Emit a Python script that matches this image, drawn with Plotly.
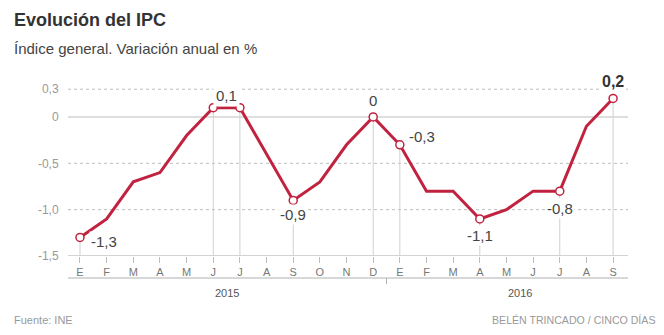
import plotly.graph_objects as go

# Monthly CPI annual variation (%), Jan 2015 – Sep 2016
months = ["E", "F", "M", "A", "M", "J", "J", "A", "S", "O", "N", "D",
          "E", "F", "M", "A", "M", "J", "J", "A", "S"]
ipc = [-1.3, -1.1, -0.7, -0.6, -0.2, 0.1, 0.1, -0.4, -0.9, -0.7, -0.3, 0.0,
       -0.3, -0.8, -0.8, -1.1, -1.0, -0.8, -0.8, -0.1, 0.2]
years = ["2015", "2016"]
year_centers = [5.5, 16.5]
highlight = [0, 5, 6, 8, 11, 12, 15, 18, 20]

y_ticks = [0.3, 0.0, -0.5, -1.0, -1.5]

RED = "#c1223f"
SANS = "Liberation Sans, Arial, sans-serif"


def fmt(v):
    s = f"{v:.1f}".replace(".", ",")
    if s in ("0,0", "-0,0"):
        return "0"
    return s


def fmt_tick(v):
    return "0" if v == 0 else f"{v:.1f}".replace(".", ",")


W, H = 664, 335
L, R, T, B = 68, 36, 75, 79
pw, ph = W - L - R, H - T - B

x = list(range(len(months)))
fig = go.Figure()

# main line
fig.add_trace(go.Scatter(
    x=x, y=ipc, mode="lines",
    line=dict(color=RED, width=3), hoverinfo="skip", showlegend=False))
# hollow markers at the labelled months
fig.add_trace(go.Scatter(
    x=[x[i] for i in highlight], y=[ipc[i] for i in highlight], mode="markers",
    marker=dict(size=8, color="white", line=dict(color=RED, width=1.5)),
    hoverinfo="skip", showlegend=False))

shapes = []
# horizontal reference lines
for v in y_ticks:
    if v == -1.5:
        line = dict(color="#a8a8a8", width=1.2)
    elif v == 0:
        line = dict(color="#bdbdbd", width=1.2)
    else:
        line = dict(color="#bdbdbd", width=1, dash="dot")
    shapes.append(dict(type="line", xref="paper", yref="y", x0=0, x1=1, y0=v, y1=v,
                       line=line, layer="below"))
# drop lines under highlighted points
for i in highlight:
    shapes.append(dict(type="line", xref="x", yref="y", x0=i, x1=i, y0=ipc[i], y1=-1.5,
                       line=dict(color="#d0d0d0", width=1), layer="below"))
# year group line and divider
y_group = -22 / ph
shapes.append(dict(type="line", xref="paper", yref="paper", x0=0, x1=1, y0=y_group, y1=y_group,
                   line=dict(color="#b0b0b0", width=1)))
shapes.append(dict(type="line", xref="x", yref="paper", x0=11.5, x1=11.5,
                   y0=y_group, y1=y_group - 6 / ph, line=dict(color="#b0b0b0", width=1)))

annotations = []
# value labels: index -> (xshift, yshift, bold)
label_pos = {
    0: (24, -4, False),
    8: (0, -14, False),
    11: (0, 16, False),
    12: (22, 8, False),
    15: (0, -17, False),
    18: (0, -17, False),
    20: (0, 17, True),
}
for i, (dx, dy, bold) in label_pos.items():
    annotations.append(dict(
        x=i, y=ipc[i], xref="x", yref="y", text=fmt(ipc[i]), showarrow=False,
        xshift=dx, yshift=dy, bgcolor="white", borderpad=1,
        font=dict(family=SANS, size=16 if bold else 15, color="#333" if bold else "#444",
                  weight="bold" if bold else "normal")))
# shared label for the two equal June/July 2015 values
annotations.append(dict(
    x=5.5, y=ipc[5], xref="x", yref="y", text=fmt(ipc[5]), showarrow=False,
    yshift=12, bgcolor="white", borderpad=2,
    font=dict(family=SANS, size=15, color="#444")))

# year labels
for yl, xc in zip(years, year_centers):
    annotations.append(dict(x=xc, y=(256 - 293) / ph, xref="x", yref="paper", text=yl,
                            showarrow=False, yanchor="middle",
                            font=dict(family=SANS, size=11, color="#555")))


def px(xp, yp):
    # pixel position on the page -> paper coordinates
    return (xp - L) / pw, (H - yp - B) / ph


tx, ty = px(12, 20)
sx, sy = px(12, 49)
fx, fy = px(12, 320)
cx, cy = px(657, 320)
annotations += [
    dict(x=tx, y=ty, xref="paper", yref="paper", text="<b>Evolución del IPC</b>",
         showarrow=False, xanchor="left", yanchor="middle",
         font=dict(family=SANS, size=18, color="#333")),
    dict(x=sx, y=sy, xref="paper", yref="paper", text="Índice general. Variación anual en %",
         showarrow=False, xanchor="left", yanchor="middle",
         font=dict(family=SANS, size=15, color="#444")),
    dict(x=fx, y=fy, xref="paper", yref="paper", text="Fuente: INE", showarrow=False,
         xanchor="left", yanchor="middle", font=dict(family=SANS, size=11, color="#999")),
    dict(x=cx, y=cy, xref="paper", yref="paper", text="BELÉN TRINCADO / CINCO DÍAS",
         showarrow=False, xanchor="right", yanchor="middle",
         font=dict(family=SANS, size=10.6, color="#999")),
]

fig.update_layout(
    width=W, height=H, margin=dict(l=L, r=R, t=T, b=B),
    paper_bgcolor="white", plot_bgcolor="white",
    shapes=shapes, annotations=annotations,
    xaxis=dict(range=[-0.45, 20.56], tickmode="array", tickvals=x, ticktext=months,
               showgrid=False, zeroline=False, showline=False,
               ticks="outside", ticklen=6, tickcolor="#bdbdbd", tickwidth=1,
               tickfont=dict(family=SANS, size=11, color="#777")),
    yaxis=dict(range=[-1.5, 0.453], tickmode="array", tickvals=y_ticks,
               ticktext=[fmt_tick(v) for v in y_ticks],
               showgrid=False, zeroline=False, showline=False,
               ticks="outside", ticklen=6, tickcolor="rgba(0,0,0,0)",
               tickfont=dict(family=SANS, size=12, color="#999")),
)

fig.write_html("out.html")
